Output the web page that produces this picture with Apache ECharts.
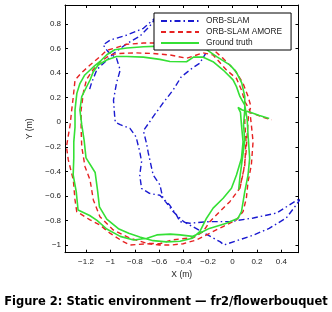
<!DOCTYPE html>
<html>
<head>
<meta charset="utf-8">
<script src="https://cdn.jsdelivr.net/npm/echarts@6/dist/echarts.min.js"></script>
<style>
html,body{margin:0;padding:0;background:#fff;}
#chart{width:332px;height:312px;}
</style>
</head>
<body>
<div id="chart"></div>
<script>
// ---- data (metres) ----
const seriesNames = ['ORB-SLAM', 'ORB-SLAM AMORE', 'Ground truth'];
const xTicksRange = [-1.372, 0.54];
const yTicksRange = [-1.063, 0.955];
const captionText = 'Figure 2: Static environment \u2014 fr2/flowerbouquet';

const orbSlam = [
[-1.17,0.27],[-1.155,0.32],[-1.11,0.43],[-1.03,0.505],[-0.975,0.56],[-0.865,0.64],[-0.76,0.70],[-0.68,0.78],[-0.62,0.86],[-0.60,0.88],
[-0.65,0.835],[-0.73,0.765],[-0.865,0.71],[-1.0,0.67],[-1.06,0.63],[-1.02,0.575],[-0.95,0.52],[-0.92,0.425],[-0.95,0.32],[-0.975,0.18],
[-0.965,0.045],[-0.96,0.0],[-0.92,-0.02],[-0.84,-0.05],[-0.79,-0.12],[-0.76,-0.24],[-0.745,-0.32],[-0.76,-0.43],[-0.745,-0.54],[-0.68,-0.58],
[-0.595,-0.595],[-0.515,-0.675],[-0.46,-0.755],[-0.43,-0.81],[-0.35,-0.823],[-0.19,-0.81],[-0.02,-0.81],[0.17,-0.78],[0.36,-0.74],[0.52,-0.64],[0.56,-0.62],
[0.52,-0.675],[0.44,-0.78],[0.30,-0.865],[0.17,-0.92],[-0.07,-1.0],[-0.10,-0.975],[-0.255,-0.89],[-0.40,-0.81],[-0.485,-0.73],[-0.57,-0.62],
[-0.595,-0.51],[-0.65,-0.43],[-0.69,-0.25],[-0.705,-0.17],[-0.73,-0.07],[-0.65,0.045],[-0.57,0.155],[-0.485,0.265],[-0.42,0.37],[-0.33,0.44],[-0.27,0.48],[-0.22,0.56]
];

const orbSlamAmore = [
[0.06,-0.54],[0.09,-0.40],[0.11,-0.25],[0.12,-0.10],[0.13,0.05],[0.15,0.13],
[0.127,0.21],[0.086,0.317],[0.018,0.425],[-0.077,0.52],[-0.186,0.615],
[-0.30,0.625],[-0.45,0.63],[-0.60,0.645],[-0.73,0.645],[-0.867,0.635],[-0.977,0.60],
[-1.031,0.585],[-1.086,0.534],[-1.167,0.466],[-1.24,0.40],[-1.29,0.344],[-1.304,0.208],[-1.317,0.10],[-1.33,-0.02],[-1.36,-0.2],[-1.345,-0.307],[-1.304,-0.47],[-1.29,-0.633],[-1.276,-0.728],
[-1.167,-0.796],[-1.086,-0.837],[-1.004,-0.904],[-0.895,-0.973],[-0.84,-1.0],[-0.70,-0.99],[-0.60,-1.0],[-0.50,-1.0],[-0.404,-0.99],[-0.295,-0.959],
[-0.186,-0.904],[-0.077,-0.85],[0.032,-0.796],[0.086,-0.728],[0.113,-0.619],[0.127,-0.484],[0.154,-0.348],[0.168,-0.158],[0.154,-0.022],[0.14,0.10],
[0.10,0.17],[0.073,0.263],[0.032,0.357],[-0.05,0.425],[-0.159,0.548],[-0.241,0.565],[-0.377,0.521],[-0.513,0.548],[-0.65,0.56],[-0.80,0.565],[-0.93,0.56],[-1.0,0.55],
[-1.086,0.49],[-1.14,0.43],[-1.195,0.35],[-1.22,0.25],[-1.24,0.10],[-1.24,-0.05],[-1.235,-0.2],[-1.208,-0.362],[-1.167,-0.47],[-1.14,-0.633],[-1.086,-0.77],[-0.977,-0.878],[-0.84,-0.945],[-0.704,-0.986],
[-0.595,-0.99],[-0.50,-0.96],[-0.42,-0.95],[-0.32,-0.94],
[-0.241,-0.891],[-0.186,-0.81],[-0.104,-0.728],[-0.022,-0.647],[0.059,-0.538],[0.10,-0.35],[0.11,-0.15],[0.10,0.0],[0.10,0.10],
[0.17,0.07],[0.25,0.04],[0.32,0.02]
];

const groundTruth = [
[0.05,-0.55],[0.06,-0.45],[0.08,-0.30],[0.10,-0.15],[0.09,-0.02],[0.10,0.10],
[0.10,0.21],[0.075,0.32],[0.03,0.41],[-0.02,0.465],[-0.13,0.535],[-0.21,0.59],
[-0.30,0.605],[-0.45,0.615],[-0.595,0.62],[-0.73,0.615],[-0.865,0.605],[-0.965,0.59],
[-1.03,0.55],[-1.085,0.495],[-1.14,0.45],[-1.21,0.385],[-1.25,0.315],[-1.275,0.235],[-1.29,0.10],[-1.29,-0.04],[-1.30,-0.16],[-1.30,-0.29],[-1.305,-0.43],[-1.28,-0.565],[-1.265,-0.715],
[-1.17,-0.76],[-1.11,-0.80],[-1.03,-0.87],[-0.92,-0.93],[-0.81,-0.96],[-0.70,-0.945],[-0.62,-0.918],[-0.51,-0.912],[-0.43,-0.918],[-0.33,-0.93],
[-0.27,-0.905],[-0.19,-0.865],[-0.05,-0.823],[0.045,-0.782],[0.073,-0.728],[0.10,-0.566],[0.127,-0.43],[0.14,-0.294],[0.127,-0.104],[0.12,0.02],[0.10,0.14],
[0.06,0.21],[0.032,0.29],[0.004,0.345],[-0.077,0.425],[-0.16,0.493],[-0.24,0.53],[-0.32,0.53],[-0.377,0.493],[-0.513,0.495],[-0.595,0.512],[-0.73,0.53],[-0.867,0.535],[-0.95,0.535],[-1.03,0.507],
[-1.10,0.466],[-1.14,0.412],[-1.167,0.344],[-1.195,0.289],[-1.235,0.208],[-1.25,0.10],[-1.235,-0.02],[-1.215,-0.15],[-1.20,-0.29],[-1.125,-0.41],[-1.105,-0.56],[-1.09,-0.69],[-1.03,-0.79],[-0.93,-0.87],[-0.85,-0.905],[-0.76,-0.935],
[-0.65,-0.965],[-0.54,-0.975],[-0.43,-0.97],[-0.33,-0.945],
[-0.268,-0.891],[-0.213,-0.782],[-0.159,-0.70],[-0.077,-0.619],[-0.009,-0.538],[0.032,-0.43],[0.073,-0.294],[0.086,-0.158],[0.073,-0.022],[0.065,0.08],[0.045,0.12],
[0.08,0.10],[0.15,0.08],[0.22,0.055],[0.30,0.03]
];

// ---- chart ----
const colors = ['#1a1ad0', '#e62222', '#35e035'];
const fmt = v => String(Math.round(v * 10) / 10).replace('-', '\u2212');
const labelStyle = {fontFamily: 'Liberation Sans', fontSize: 8, color: '#222'};

function xAx(pos, show) {
  return {
    type: 'value', position: pos, min: xTicksRange[0], max: xTicksRange[1], splitNumber: 10,
    axisLine: {show: true, onZero: false, lineStyle: {color: '#000', width: 1}},
    axisTick: {show: true, inside: true, length: 3, lineStyle: {color: '#000'}},
    splitLine: {show: false},
    axisLabel: Object.assign({show: show, margin: 5, showMinLabel: false, showMaxLabel: false, formatter: fmt}, labelStyle),
    name: show ? 'X (m)' : '', nameLocation: 'middle', nameGap: 17,
    nameTextStyle: {fontFamily: 'Liberation Sans', fontSize: 8.5, color: '#222'}
  };
}
function yAx(pos, show) {
  return {
    type: 'value', position: pos, min: yTicksRange[0], max: yTicksRange[1], splitNumber: 10,
    axisLine: {show: true, onZero: false, lineStyle: {color: '#000', width: 1}},
    axisTick: {show: true, inside: true, length: 3, lineStyle: {color: '#000'}},
    splitLine: {show: false},
    axisLabel: Object.assign({show: show, margin: 4, showMinLabel: false, showMaxLabel: false, formatter: fmt}, labelStyle),
    name: show ? 'Y (m)' : '', nameLocation: 'middle', nameGap: 22,
    nameTextStyle: {fontFamily: 'Liberation Sans', fontSize: 8.5, color: '#222'}
  };
}

const chart = echarts.init(document.getElementById('chart'), null, {renderer: 'canvas'});
chart.setOption({
  animation: false,
  backgroundColor: '#fff',
  title: {
    text: captionText, left: 'center', top: 291,
    textStyle: {fontFamily: 'DejaVu Sans', fontWeight: 'bold', fontSize: 11.5, color: '#000'}
  },
  grid: {left: 65, top: 5, width: 233.5, height: 247.7, containLabel: false},
  xAxis: [xAx('bottom', true), xAx('top', false)],
  yAxis: [yAx('left', true), yAx('right', false)],
  legend: {
    orient: 'vertical', left: 154, top: 13,
    data: seriesNames,
    itemWidth: 38, itemHeight: 8, itemGap: 3,
    padding: [4, 9, 3, 6],
    backgroundColor: '#fff', borderColor: '#000', borderWidth: 1,
    itemStyle: {opacity: 0},
    textStyle: {fontFamily: 'Liberation Sans', fontSize: 8.3, color: '#222', padding: [0, 0, 0, 2]}
  },
  series: [
    {name: seriesNames[0], type: 'line', data: orbSlam, symbol: 'none', smooth: false,
     lineStyle: {color: colors[0], width: 1.4, type: [6, 3, 1.5, 3]}, itemStyle: {color: colors[0]}},
    {name: seriesNames[1], type: 'line', data: orbSlamAmore, symbol: 'none', smooth: false,
     lineStyle: {color: colors[1], width: 1.4, type: [5, 3.5]}, itemStyle: {color: colors[1]}},
    {name: seriesNames[2], type: 'line', data: groundTruth, symbol: 'none', smooth: false,
     lineStyle: {color: colors[2], width: 1.6}, itemStyle: {color: colors[2]}}
  ]
});
</script>
</body>
</html>
